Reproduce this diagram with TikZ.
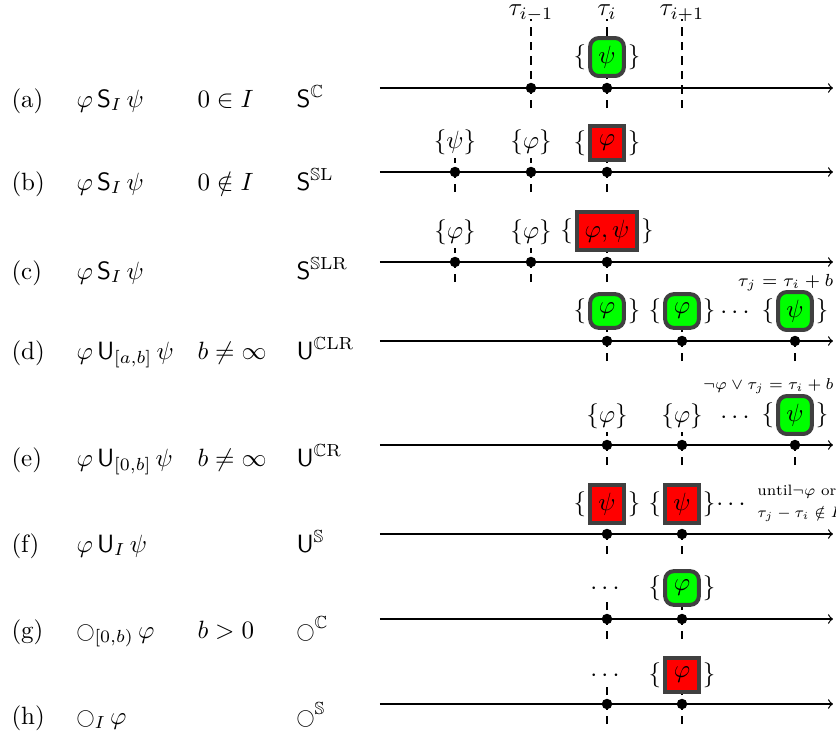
\documentclass[tikz,border=0pt]{standalone}
\usepackage{amsmath,amssymb}
\usepackage{graphicx}
\definecolor{boxgray}{HTML}{404040}
\newcommand\nextop{\mathord{\raisebox{0.3pt}{\scalebox{0.72}{$\bigcirc$}}}}
\begin{document}
\begin{tikzpicture}[x=0.4pt,y=-0.4pt,
  axis/.style={->,line width=0.5pt},
  tickline/.style={line width=0.5pt,dash pattern=on 3.4pt off 2.4pt},
  gbox/.style={draw=boxgray,line width=1.6pt,fill=green,rounded corners=3.5pt,minimum width=13.5pt,minimum height=13.5pt,inner sep=3.15pt},
  rbox/.style={gbox,fill=red,sharp corners},
  lbl/.style={fill=white,inner sep=1.5pt},
  brl/.style={anchor=east,inner sep=0.6pt},
  brr/.style={anchor=west,inner sep=0.6pt},
  txt/.style={anchor=base west,inner sep=0pt},
  dotsn/.style={anchor=base,inner sep=1.5pt},
  dotmark/.style={fill=black}]
\useasboundingbox (0,0) rectangle (836,736);

% ---------- left columns ----------
\node[txt] (la) at (11,107) {(a)};
\node[txt] (fa) at (76,107) {$\varphi\,\mathsf{S}_I\,\psi$};
\node[txt] (ca) at (197,107) {$0\in I$};
\node[txt] (oa) at (296,107) {$\mathsf{S}^{\mathbb{C}}$};

\node[txt] (lb) at (11,190) {(b)};
\node[txt] (fb) at (76,190) {$\varphi\,\mathsf{S}_I\,\psi$};
\node[txt] (cb) at (197,190) {$0\notin I$};
\node[txt] (ob) at (296,190) {$\mathsf{S}^{\mathbb{S}\mathrm{L}}$};

\node[txt] (lc) at (11,279) {(c)};
\node[txt] (fc) at (76,279) {$\varphi\,\mathsf{S}_I\,\psi$};
\node[txt] (oc) at (296,279) {$\mathsf{S}^{\mathbb{S}\mathrm{LR}}$};

\node[txt] (ld) at (11,359) {(d)};
\node[txt] (fd) at (76,359) {$\varphi\,\mathsf{U}_{[a,b]}\,\psi$};
\node[txt] (cd) at (197,359) {$b\neq\infty$};
\node[txt] (od) at (296,359) {$\mathsf{U}^{\mathbb{C}\mathrm{LR}}$};

\node[txt] (le) at (11,466) {(e)};
\node[txt] (fe) at (76,466) {$\varphi\,\mathsf{U}_{[0,b]}\,\psi$};
\node[txt] (ce) at (197,466) {$b\neq\infty$};
\node[txt] (oe) at (296,466) {$\mathsf{U}^{\mathbb{C}\mathrm{R}}$};

\node[txt] (lf) at (11,552) {(f)};
\node[txt] (ff) at (76,552) {$\varphi\,\mathsf{U}_I\,\psi$};
\node[txt] (of) at (296,552) {$\mathsf{U}^{\mathbb{S}}$};

\node[txt] (lg) at (11,638) {(g)};
\node[txt] (fg) at (76,638) {$\nextop_{[0,b)}\,\varphi$};
\node[txt] (cg) at (197,638) {$b>0$};
\node[txt] (og) at (296,638) {$\nextop^{\mathbb{C}}$};

\node[txt] (lh) at (11,724) {(h)};
\node[txt] (fh) at (76,724) {$\nextop_I\,\varphi$};
\node[txt] (oh) at (296,724) {$\nextop^{\mathbb{S}}$};

% ---------- row (a) ----------
\foreach \x in {531,607,682} \draw[tickline] (\x,108) -- (\x,19);
\draw[axis] (380,88) -- (833,88);
\fill[dotmark] (531,88) circle[radius=2.1pt];
\fill[dotmark] (607,88) circle[radius=2.1pt];
\node[anchor=base,inner sep=0pt] (tm) at (531,15.5) {$\tau_{i-1}$};
\node[anchor=base,inner sep=0pt] (ti) at (607,15.5) {$\tau_{i}$};
\node[anchor=base,inner sep=0pt] (tp) at (682,15.5) {$\tau_{i+1}$};
\node[gbox] (ba) at (607,57) {$\psi$};
\node[brl] at (ba.west) {$\{$}; \node[brr] at (ba.east) {$\}$};

% ---------- row (b) ----------
\foreach \x in {455,531,607} {\draw[tickline] (\x,192) -- (\x,142);}
\draw[axis] (380,172) -- (833,172);
\foreach \x in {455,531,607} {\fill[dotmark] (\x,172) circle[radius=2.1pt];}
\node[lbl] (b1) at (455,142) {$\{\psi\}$};
\node[lbl] (b2) at (531,142) {$\{\varphi\}$};
\node[rbox] (b3) at (607,143) {$\varphi$};
\node[brl] at (b3.west) {$\{$}; \node[brr] at (b3.east) {$\}$};

% ---------- row (c) ----------
\foreach \x in {455,531,607} {\draw[tickline] (\x,282) -- (\x,232);}
\draw[axis] (380,262) -- (833,262);
\foreach \x in {455,531,607} {\fill[dotmark] (\x,262) circle[radius=2.1pt];}
\node[lbl] (c1) at (455,232) {$\{\varphi\}$};
\node[lbl] (c2) at (531,232) {$\{\varphi\}$};
\node[rbox] (c3) at (607,231) {$\varphi,\psi$};
\node[brl] at (c3.west) {$\{$}; \node[brr] at (c3.east) {$\}$};

% ---------- row (d) ----------
\foreach \x in {607,682,795} {\draw[tickline] (\x,361) -- (\x,311);}
\draw[axis] (380,341) -- (833,341);
\foreach \x in {607,682,795} {\fill[dotmark] (\x,341) circle[radius=2.1pt];}
\node[gbox] (d1) at (607,311) {$\varphi$};
\node[brl] at (d1.west) {$\{$}; \node[brr] at (d1.east) {$\}$};
\node[gbox] (d2) at (682,311) {$\varphi$};
\node[brl] at (d2.west) {$\{$}; \node[brr] at (d2.east) {$\}$};
\node[gbox] (d3) at (795,311) {$\psi$};
\node[brl] at (d3.west) {$\{$}; \node[brr] at (d3.east) {$\}$};
\node[dotsn] (dd) at (737,318) {$\cdots$};
\node[anchor=base east,inner sep=0pt,font=\scriptsize] (dl) at (834,286) {$\tau_j=\tau_i+b$};

% ---------- row (e) ----------
\foreach \x in {607,682,795} {\draw[tickline] (\x,465) -- (\x,415);}
\draw[axis] (380,445) -- (833,445);
\foreach \x in {607,682,795} {\fill[dotmark] (\x,445) circle[radius=2.1pt];}
\node[lbl] (e1) at (607,416) {$\{\varphi\}$};
\node[lbl] (e2) at (682,416) {$\{\varphi\}$};
\node[gbox] (e3) at (795,415) {$\psi$};
\node[brl] at (e3.west) {$\{$}; \node[brr] at (e3.east) {$\}$};
\node[dotsn] (ed) at (737,423) {$\cdots$};
\node[anchor=base east,inner sep=0pt,font=\scriptsize] (el) at (834,389) {\scalebox{0.9}{$\neg\varphi\vee\tau_j=\tau_i+b$}};

% ---------- row (f) ----------
\foreach \x in {607,682} {\draw[tickline] (\x,554) -- (\x,504);}
\draw[axis] (380,534) -- (833,534);
\foreach \x in {607,682} {\fill[dotmark] (\x,534) circle[radius=2.1pt];}
\node[rbox] (f1) at (607,504) {$\psi$};
\node[brl] at (f1.west) {$\{$}; \node[brr] at (f1.east) {$\}$};
\node[rbox] (f2) at (682,504) {$\psi$};
\node[brl] at (f2.west) {$\{$}; \node[brr] at (f2.east) {$\}$};
\node[dotsn,inner sep=0pt] (fd) at (733,510) {$\cdots$};
\node[txt,font=\scriptsize] (fl1) at (757,495) {\scalebox{0.86}{until$\neg\varphi$ or}};
\node[txt,font=\scriptsize] (fl2) at (757,517) {\scalebox{0.86}{$\tau_j-\tau_i\notin I$}};

% ---------- row (g) ----------
\foreach \x in {607,682} {\draw[tickline] (\x,639) -- (\x,589);}
\draw[axis] (380,619) -- (833,619);
\foreach \x in {607,682} {\fill[dotmark] (\x,619) circle[radius=2.1pt];}
\node[dotsn,fill=white] (gd) at (607,594) {$\cdots$};
\node[gbox] (g1) at (682,588) {$\varphi$};
\node[brl] at (g1.west) {$\{$}; \node[brr] at (g1.east) {$\}$};

% ---------- row (h) ----------
\foreach \x in {607,682} {\draw[tickline] (\x,724) -- (\x,674);}
\draw[axis] (380,704) -- (833,704);
\foreach \x in {607,682} {\fill[dotmark] (\x,704) circle[radius=2.1pt];}
\node[dotsn,fill=white] (hd) at (607,681) {$\cdots$};
\node[rbox] (h1) at (682,675) {$\varphi$};
\node[brl] at (h1.west) {$\{$}; \node[brr] at (h1.east) {$\}$};
\end{tikzpicture}
\end{document}
